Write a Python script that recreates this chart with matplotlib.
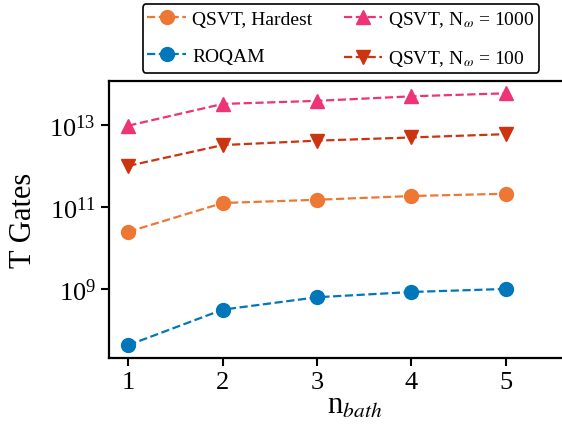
import matplotlib
matplotlib.use("Agg")
import matplotlib.pyplot as plt
from matplotlib.ticker import FixedLocator, NullLocator, NullFormatter, LogFormatterMathtext

plt.rcParams['font.family'] = ['Liberation Serif', 'DejaVu Serif']
plt.rcParams['mathtext.fontset'] = 'stix'

n_bath = [1, 2, 3, 4, 5]
qsvt_1000 = [9.5e12, 3.2e13, 3.8e13, 4.9e13, 5.8e13]
qsvt_100 = [1.0e12, 3.2e12, 4.1e12, 4.9e12, 5.9e12]
qsvt_hardest = [2.5e10, 1.25e11, 1.5e11, 1.85e11, 2.1e11]
roqam = [4.4e7, 3.2e8, 6.4e8, 8.6e8, 1.02e9]
y_ticks = [1e9, 1e11, 1e13]

fig = plt.figure(figsize=(5.62, 4.31), dpi=100)
ax = fig.add_axes([109/562, 1 - 359/431, (600 - 109)/562, (359 - 81.7)/431])

kw = dict(linestyle='--', linewidth=1.6, markersize=10)
l_h, = ax.plot(n_bath, qsvt_hardest, marker='o', color='#EE7733', label='QSVT, Hardest', **kw)
l_r, = ax.plot(n_bath, roqam, marker='o', color='#0077BB', label='ROQAM', **kw)
l_1000, = ax.plot(n_bath, qsvt_1000, marker='^', color='#EE3377', label=r'QSVT, N$_\omega$ = 1000', **kw)
l_100, = ax.plot(n_bath, qsvt_100, marker='v', color='#CC3311', label=r'QSVT, N$_\omega$ = 100', **kw)

ax.set_yscale('log')
ax.set_xlim(0.795, 6.0)
ax.set_ylim(10**7.33, 10**14.07)
ax.set_xticks(n_bath)
ax.set_xticklabels([str(v) for v in n_bath])
ax.yaxis.set_major_locator(FixedLocator(y_ticks))
ax.yaxis.set_major_formatter(LogFormatterMathtext())
ax.yaxis.set_minor_locator(NullLocator())
ax.yaxis.set_minor_formatter(NullFormatter())
ax.tick_params(axis='both', which='major', labelsize=19, length=6, width=1.5, direction='out')
for s in ax.spines.values():
    s.set_linewidth(1.6)

ax.set_ylabel('T Gates', fontsize=22, labelpad=8)
ax.set_xlabel(r'n$_{bath}$', fontsize=22, labelpad=-2)

leg = fig.legend(handles=[l_h, l_r, l_1000, l_100], loc='upper center',
                 bbox_to_anchor=(341/562, 1 - 5/431), ncol=2, fontsize=14,
                 frameon=True, fancybox=True, edgecolor='black', framealpha=1,
                 handlelength=2.0, columnspacing=1.6, borderpad=0.25, labelspacing=1.0,
                 handletextpad=0.3, borderaxespad=0)
leg.get_frame().set_linewidth(1.2)

fig.savefig('out.png', dpi=100)
